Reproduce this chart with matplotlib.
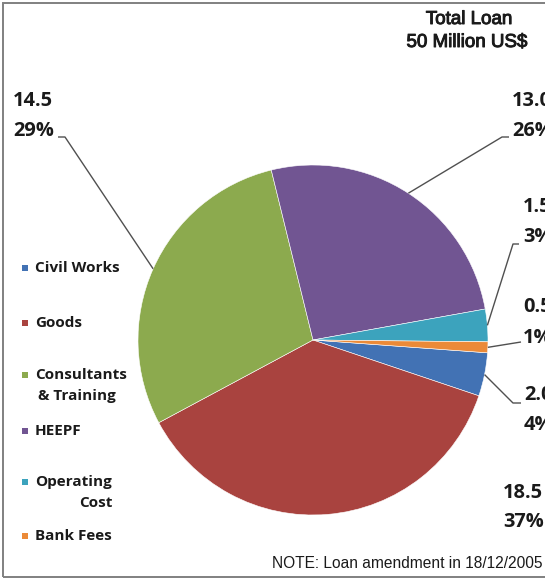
import numpy as np
import matplotlib
matplotlib.use("Agg")
import matplotlib.pyplot as plt
import matplotlib.patheffects as pe
from matplotlib.patches import Rectangle

# Loan allocation (million US$)
categories = ["Civil Works", "Goods", "Consultants & Training", "HEEPF",
              "Operating Cost", "Bank Fees"]
amounts = [2.0, 18.5, 14.5, 13.0, 1.5, 0.5]
colors = ["#4272B4", "#A9433F", "#8CAA4E", "#715592", "#3CA3BD", "#EB8A38"]

legend_lines = [["Civil Works"], ["Goods"], ["Consultants", "& Training"],
                ["HEEPF"], ["Operating", "Cost"], ["Bank Fees"]]

W, H = 545, 579
fig = plt.figure(figsize=(W / 100, H / 100), dpi=100)
ax = fig.add_axes([0, 0, 1, 1])


def Y(y):
    """Convert a top-down pixel row to axis coordinates."""
    return H - y


cx, cy, r = 313, 340, 175
wedges, _ = ax.pie(amounts, colors=colors, startangle=-4.2, counterclock=False,
                   center=(cx, Y(cy)), radius=r,
                   wedgeprops=dict(edgecolor="white", linewidth=0.4))
ax.set_xlim(0, W)
ax.set_ylim(0, H)
ax.set_aspect("equal")
ax.axis("off")

total = sum(amounts)
label_font = dict(family="Open Sans", weight="bold", size=14.4, color="#1a1a1a")

# label anchor (x, baseline of value, baseline of percent) and leader path
label_pos = [
    (524, 400, 430),
    (503, 498, 527),
    (13, 106, 136),
    (512, 106, 136),
    (523, 212, 242),
    (523, 312, 343),
]
leader_start = [
    [(521, 403), (513, 403)],
    None,
    [(58, 137), (65, 137)],
    [(509, 137), (502, 137)],
    [(519, 244), (513, 244)],
    [(521, 342)],
]

for w, amt, (lx, b1, b2), path in zip(wedges, amounts, label_pos, leader_start):
    ax.text(lx, Y(b1), f"{amt:.1f}", va="baseline", ha="left", **label_font)
    ax.text(lx, Y(b2), f"{amt / total * 100:.0f}%", va="baseline", ha="left",
            **label_font)
    if path is None:
        continue
    mid = np.deg2rad((w.theta1 + w.theta2) / 2)
    ex, ey = cx + r * np.cos(mid), Y(cy) + r * np.sin(mid)
    xs = [p[0] for p in path] + [ex]
    ys = [Y(p[1]) for p in path] + [ey]
    ax.plot(xs, ys, color="#505050", lw=1.0, solid_capstyle="butt")

# legend on the left
legend_font = dict(family="Open Sans", weight="bold", size=11, color="#1a1a1a")
legend_rows = [(268,), (323,), (375, 396), (431,), (482, 503), (536,)]
for col, lines, rows in zip(colors, legend_lines, legend_rows):
    ax.add_patch(Rectangle((22, Y(rows[0]) - 3.2), 6.4, 6.4, facecolor=col,
                           edgecolor="none"))
    ax.text(35, Y(rows[0]), lines[0], va="center", ha="left", **legend_font)
    if len(lines) > 1:
        if lines[1] == "Cost":
            ax.text(112, Y(rows[1]), lines[1], va="center", ha="right",
                    **legend_font)
        else:
            ax.text(38, Y(rows[1]), lines[1], va="center", ha="left",
                    **legend_font)

# title and note
title_font = dict(family="Liberation Sans", size=13.5, color="#1a1a1a")
heavier = [pe.withStroke(linewidth=0.7, foreground="#1a1a1a")]
ax.text(469, Y(24), "Total Loan", ha="center", va="baseline",
        path_effects=heavier, **title_font)
ax.text(467, Y(47), "50 Million US$", ha="center", va="baseline",
        path_effects=heavier, **title_font)
ax.text(272, Y(568), "NOTE: Loan amendment in 18/12/2005", ha="left",
        va="baseline", family="Liberation Sans", size=11.2, color="#1a1a1a")

# outer frame
ax.add_patch(Rectangle((2.5, Y(577)), W + 20, 574.5, facecolor="none",
                       edgecolor="#808080", lw=1.4, clip_on=False))

fig.savefig("out.png", dpi=100)
